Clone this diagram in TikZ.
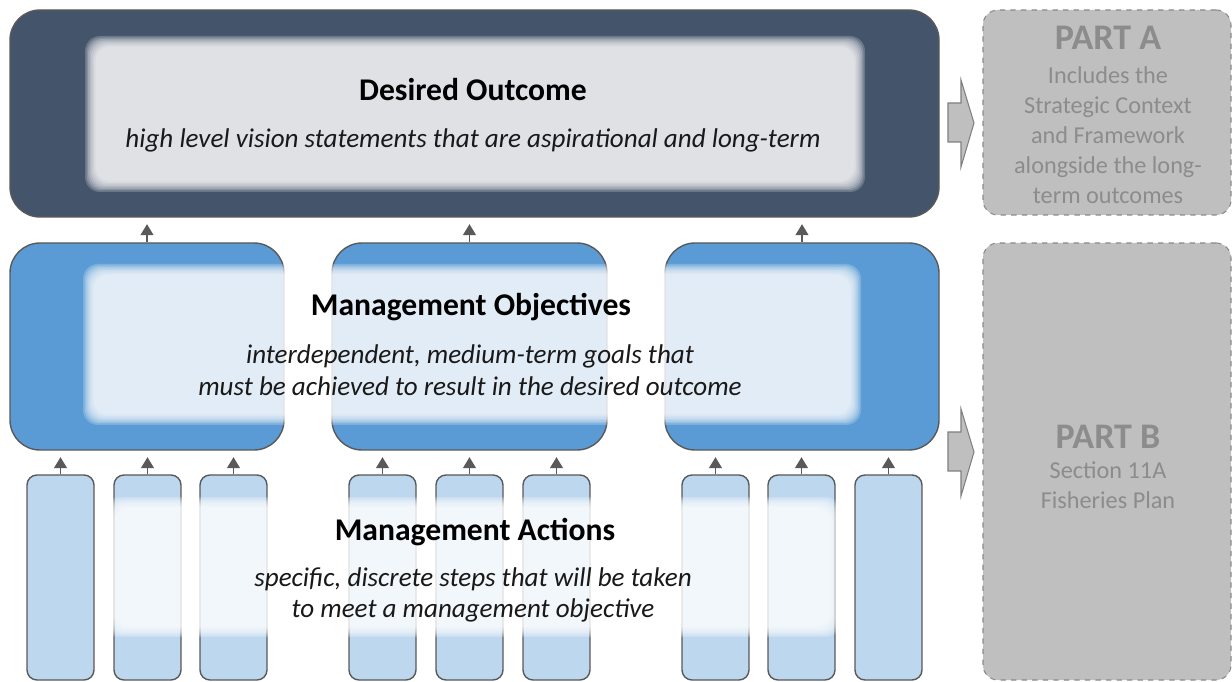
\documentclass[tikz,border=0pt]{standalone}
\usepackage{fontspec}
\setmainfont{Carlito}
\usepackage{xcolor}
\definecolor{slateBlue}{HTML}{44546A}
\definecolor{midBlue}{HTML}{5B9BD5}
\definecolor{paleBlue}{HTML}{BDD7EE}
\definecolor{edgeGrey}{HTML}{595959}
\definecolor{partFill}{HTML}{BFBFBF}
\definecolor{partText}{HTML}{8C8C8C}
\definecolor{partEdge}{HTML}{8A8A8A}
\usetikzlibrary{arrows.meta,fit}
\tikzset{
    outcomebox/.style={draw=edgeGrey, fill=slateBlue, line width=0.8pt, rounded corners=0.6cm, inner sep=0pt},
    objbox/.style={draw=edgeGrey, fill=midBlue, line width=0.8pt, rounded corners=0.6cm, inner sep=0pt},
    actbar/.style={draw=edgeGrey, fill=paleBlue, line width=0.8pt, rounded corners=0.2cm, inner sep=0pt},
    partbox/.style={draw=partEdge, fill=partFill, dashed, line width=0.6pt, rounded corners=0.3cm, inner sep=0pt},
    uparrow/.style={draw=edgeGrey, line width=0.7pt, -{Triangle[length=2.2mm,width=2.6mm]}, shorten >=1.3mm},
    blockarrow/.style={draw=gray, fill=partFill, line width=0.6pt},
    headtxt/.style={font=\fontsize{18}{21}\selectfont\bfseries},
    bodytxt/.style={font=\fontsize{15.4}{18}\selectfont\itshape, align=center, text=black!90},
    parttitle/.style={text=partText, font=\fontsize{20.5}{24}\selectfont\bfseries},
    partbody/.style={text=partText, font=\fontsize{13.8}{17}\selectfont, align=center}
}
% soft white panel with a blurred edge: x1 y1 x2 y2
\newcommand{\softpanel}[4]{%
  \foreach \k in {0,...,7}{
    \fill[white, fill opacity=0.2, rounded corners=0.3cm]
      ({#1+1.5*\k},{#2+1.5*\k}) rectangle ({#3-1.5*\k},{#4-1.5*\k});
  }}

\begin{document}
\begin{tikzpicture}[x=0.02cm, y=-0.02cm]
  % Frame
  \useasboundingbox (0,0) rectangle (1232,682);

  % Desired outcome
  \node[outcomebox, fit={(10,10) (939,217)}] (outcome) {};

  % Management objectives
  \foreach \xl/\xr [count=\i] in {10/284, 332/607, 665/939}{
    \node[objbox, fit={(\xl,243) (\xr,450)}] (obj\i) {};
  }

  % Management actions
  \foreach \xl [count=\i] in {27,114,200,349,436,523,682,768,855}{
    \node[actbar, fit={(\xl,475) (\xl+67,680)}] (act\i) {};
  }

  % Soft panels behind the texts
  \softpanel{85}{36}{865}{192}
  \softpanel{83}{264}{861}{425}
  \softpanel{104}{497}{841}{637}

  % Texts
  \node[headtxt] (outcomeHead) at (473,90) {Desired Outcome};
  \node[bodytxt] (outcomeText) at (473,140) {high level vision statements that are aspirational and long-term};
  \node[headtxt] (objHead) at (471,307) {Management Objectives};
  \node[bodytxt] (objText) at (470,370) {interdependent, medium-term goals that\\must be achieved to result in the desired outcome};
  \node[headtxt] (actHead) at (475,532) {Management Actions};
  \node[bodytxt] (actText) at (473,595) {specific, discrete steps that will be taken\\to meet a management objective};

  % Arrows
  \foreach \i in {1,2,3}{
    \draw[uparrow] (obj\i.north) -- (obj\i.north |- outcome.south);
  }
  \foreach \i/\g in {1/1,2/1,3/1,4/2,5/2,6/2,7/3,8/3,9/3}{
    \draw[uparrow] (act\i.north) -- (act\i.north |- obj\g.south);
  }

  % Parts
  \node[partbox, fit={(983,10) (1231,215)}] (partA) {};
  \node[partbox, fit={(983,243) (1231,680)}] (partB) {};
  \node[parttitle] (partAHead) at (1108,38) {PART A};
  \node[partbody] (partAText) at (1108,135) {Includes the\\Strategic Context\\and Framework\\alongside the long-\\term outcomes};
  \node[parttitle] (partBHead) at (1108,437) {PART B};
  \node[partbody] (partBText) at (1108,485) {Section 11A\\Fisheries Plan};

  % Block arrows
  \foreach \yc in {123,452}{
    \draw[blockarrow] (948,\yc-20) -- (961,\yc-20) -- (961,\yc-43) -- (974,\yc)
      -- (961,\yc+44) -- (961,\yc+19) -- (948,\yc+19) -- cycle;
  }
\end{tikzpicture}
\end{document}
